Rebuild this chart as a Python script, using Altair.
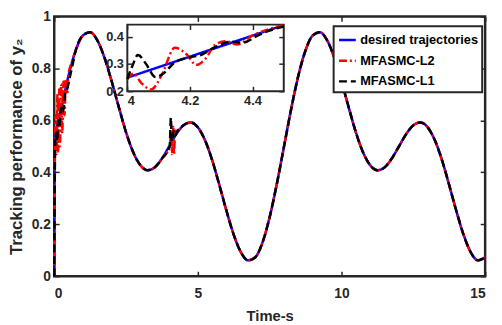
import altair as alt
import pandas as pd

# ---------------- data ----------------
names = ["desired trajectories", "MFASMC-L2", "MFASMC-L1"]
colors = ["#0000FF", "#FF0000", "#000000"]
dashes = [[1, 0], [8, 3, 2, 3], [8, 4]]

# desired trajectory
desired_t = [0.0, 0.01, 0.25, 0.5, 0.75, 1.0, 1.25, 1.5, 1.75, 2.0, 2.25, 2.5, 2.75, 3.0,
             3.25, 3.5, 3.75, 4.0, 4.25, 4.5, 4.75, 5.0, 5.25, 5.5, 5.75, 6.0, 6.25, 6.5,
             6.75, 7.0, 7.25, 7.5, 7.75, 8.0, 8.25, 8.5, 8.75, 9.0, 9.25, 9.5, 9.75, 10.0,
             10.25, 10.5, 10.75, 11.0, 11.25, 11.5, 11.75, 12.0, 12.25, 12.5, 12.75, 13.0,
             13.25, 13.5, 13.75, 14.0, 14.25, 14.5, 14.75, 15.0]
desired_y = [0.0, 0.50, 0.645, 0.773, 0.870, 0.927, 0.939, 0.908, 0.841, 0.750, 0.650, 0.554,
             0.477, 0.427, 0.408, 0.419, 0.453, 0.500, 0.547, 0.581, 0.592, 0.573, 0.523,
             0.446, 0.350, 0.250, 0.159, 0.092, 0.061, 0.073, 0.130, 0.228, 0.356, 0.500,
             0.645, 0.773, 0.870, 0.927, 0.939, 0.908, 0.841, 0.750, 0.650, 0.554, 0.477,
             0.427, 0.408, 0.419, 0.453, 0.500, 0.547, 0.581, 0.592, 0.573, 0.523, 0.446,
             0.350, 0.250, 0.159, 0.092, 0.061, 0.073]

# MFASMC-L2: start-up transient and disturbance around t = 4 s
l2_start_t = [0.0, 0.02, 0.05, 0.08, 0.11, 0.14, 0.17, 0.20, 0.24, 0.28, 0.32, 0.36, 0.40, 0.45, 0.50, 0.60]
l2_start_y = [0.0, 0.45, 0.62, 0.47, 0.70, 0.48, 0.72, 0.50, 0.74, 0.55, 0.75, 0.62, 0.76, 0.70, 0.78, 0.82]
l2_dist_t = [4.02, 4.07, 4.10, 4.14, 4.17, 4.21, 4.27]
l2_dist_y = [0.50, 0.55, 0.47, 0.58, 0.47, 0.56, 0.56]

# MFASMC-L1
l1_start_t = [0.0, 0.03, 0.06, 0.10, 0.14, 0.18, 0.24, 0.30, 0.38, 0.45, 0.55, 0.65]
l1_start_y = [0.0, 0.48, 0.55, 0.52, 0.60, 0.58, 0.65, 0.63, 0.70, 0.72, 0.77, 0.82]
l1_dist_t = [4.02, 4.06, 4.09, 4.12, 4.16, 4.20, 4.27]
l1_dist_y = [0.50, 0.61, 0.52, 0.53, 0.56, 0.54, 0.555]

# inset (zoom of 4 .. 4.5 s)
ins_blue_t = [4.0, 4.5]
ins_blue_y = [0.25, 0.443]
ins_l2_t = [4.0, 4.02, 4.045, 4.076, 4.11, 4.152, 4.19, 4.22, 4.25, 4.28, 4.315, 4.35, 4.40, 4.457, 4.5]
ins_l2_y = [0.245, 0.265, 0.23, 0.206, 0.26, 0.36, 0.335, 0.297, 0.32, 0.37, 0.384, 0.372, 0.405, 0.43, 0.443]
ins_l1_t = [4.0, 4.015, 4.034, 4.06, 4.09, 4.12, 4.15, 4.20, 4.235, 4.28, 4.33, 4.37, 4.415, 4.457, 4.5]
ins_l1_y = [0.245, 0.29, 0.333, 0.30, 0.252, 0.27, 0.305, 0.325, 0.333, 0.362, 0.382, 0.379, 0.404, 0.424, 0.438]

x_ticks = [0, 5, 10, 15]
y_ticks = [0, 0.2, 0.4, 0.6, 0.8, 1]
ins_x_ticks = [4, 4.2, 4.4]
ins_y_ticks = [0.2, 0.3, 0.4]


# ---------------- tables ----------------
def tracking(start_t, start_y, dist_t, dist_y):
    pts = list(zip(start_t, start_y)) + list(zip(dist_t, dist_y))
    last = start_t[-1]
    for t, y in zip(desired_t, desired_y):
        if t > last and not (3.95 < t < 4.3):
            pts.append((t, y))
    pts.sort()
    return pts


rows = [(t, y, names[0]) for t, y in zip(desired_t, desired_y)]
rows += [(t, y, names[1]) for t, y in tracking(l2_start_t, l2_start_y, l2_dist_t, l2_dist_y)]
rows += [(t, y, names[2]) for t, y in tracking(l1_start_t, l1_start_y, l1_dist_t, l1_dist_y)]
main_df = pd.DataFrame(rows, columns=["t", "v", "series"])

irows = [(t, y, names[0]) for t, y in zip(ins_blue_t, ins_blue_y)]
irows += [(t, y, names[1]) for t, y in zip(ins_l2_t, ins_l2_y)]
irows += [(t, y, names[2]) for t, y in zip(ins_l1_t, ins_l1_y)]
ins_df = pd.DataFrame(irows, columns=["t", "v", "series"])

frame_df = pd.DataFrame({"x0": [4.0], "x1": [4.5], "y0": [0.2], "y1": [0.445]})
main_box = pd.DataFrame({"t": [0, 15], "v": [0, 1]})
ins_box = pd.DataFrame({"t": [4.0, 4.5], "v": [0.2, 0.445]})

# ---------------- layout ----------------
W, H = 438, 264
IX0, IX1 = 74.3, 233.3
IY0, IY1 = 76.0, 8.3
FR = "#262626"
FONT = "Liberation Sans"

main_x = alt.Scale(domain=[0, 15], nice=False, zero=False)
main_y = alt.Scale(domain=[0, 1], nice=False, zero=False)
ins_x = alt.Scale(domain=[4, 4.5], range=[IX0, IX1], nice=False, zero=False)
ins_y = alt.Scale(domain=[0.2, 0.445], range=[IY0, IY1], nice=False, zero=False)


def tick_axis(orient, offset, values, z=0):
    return alt.Axis(orient=orient, offset=offset, values=values, labels=False, ticks=True,
                    tickSize=5, tickWidth=1.5, tickColor=FR, domain=False, title=None,
                    grid=False, zindex=z)


def build(legend_border=True):
    leg = dict(title=None, orient="none", legendX=284, legendY=10, symbolType="stroke",
               symbolSize=289, symbolStrokeWidth=2.5, labelFont=FONT, labelFontWeight="bold",
               labelFontSize=13, labelColor="#000000", fillColor="white", strokeColor=FR,
               padding=4, rowPadding=4, labelOffset=3, labelLimit=0)
    color = alt.Color("series:N", scale=alt.Scale(domain=names, range=colors), legend=alt.Legend(**leg))
    dash = alt.StrokeDash("series:N", scale=alt.Scale(domain=names, range=dashes), legend=alt.Legend(**leg))

    lines = alt.Chart(main_df).mark_line(strokeWidth=2.5, interpolate="monotone").encode(
        x=alt.X("t:Q", scale=main_x,
                axis=alt.Axis(orient="bottom", values=x_ticks, ticks=False, domain=False, grid=False,
                              labelPadding=11, labelFontSize=14, title="Time-s",
                              titleFontSize=15, titlePadding=8)),
        y=alt.Y("v:Q", scale=main_y,
                axis=alt.Axis(orient="left", values=y_ticks, format="~g", ticks=False, domain=False,
                              grid=False, labelPadding=4, labelFontSize=14,
                              title="Tracking performance of y₂", titleFontSize=17, titlePadding=6)),
        color=color, strokeDash=dash,
    )

    ticks_a = alt.Chart(main_box).mark_point(opacity=0).encode(
        x=alt.X("t:Q", scale=main_x, axis=tick_axis("top", -H, x_ticks)),
        y=alt.Y("v:Q", scale=main_y, axis=tick_axis("right", -W, y_ticks)))
    ticks_b = alt.Chart(main_box).mark_point(opacity=0).encode(
        x=alt.X("t:Q", scale=main_x, axis=tick_axis("bottom", -H, x_ticks)),
        y=alt.Y("v:Q", scale=main_y, axis=tick_axis("left", -W, y_ticks)))

    frame = alt.Chart(frame_df).mark_rect(fill="white", stroke=FR, strokeWidth=2).encode(
        x=alt.X("x0:Q", scale=ins_x,
                axis=alt.Axis(orient="bottom", offset=IY0 - H, values=ins_x_ticks, format="~g",
                              ticks=False, domain=False, grid=False, labelPadding=4,
                              labelFontSize=13, title=None, zindex=1)),
        x2="x1:Q",
        y=alt.Y("y0:Q", scale=ins_y,
                axis=alt.Axis(orient="left", offset=-IX0, values=ins_y_ticks, format="~g",
                              ticks=False, domain=False, grid=False, labelPadding=4,
                              labelFontSize=13, title=None, zindex=1)),
        y2="y1:Q")

    ins_lines = alt.Chart(ins_df).mark_line(strokeWidth=2.5, interpolate="monotone").encode(
        x=alt.X("t:Q", scale=ins_x, axis=None),
        y=alt.Y("v:Q", scale=ins_y, axis=None),
        color=color, strokeDash=dash)

    ins_ticks_a = alt.Chart(ins_box).mark_point(opacity=0).encode(
        x=alt.X("t:Q", scale=ins_x, axis=tick_axis("top", -IY0, ins_x_ticks, 1)),
        y=alt.Y("v:Q", scale=ins_y, axis=tick_axis("right", IX0 - W, ins_y_ticks, 1)))
    ins_ticks_b = alt.Chart(ins_box).mark_point(opacity=0).encode(
        x=alt.X("t:Q", scale=ins_x, axis=tick_axis("bottom", IY1 - H, ins_x_ticks, 1)),
        y=alt.Y("v:Q", scale=ins_y, axis=tick_axis("left", -IX1, ins_y_ticks, 1)))

    chart = alt.layer(lines, ticks_a, ticks_b, frame, ins_lines, ins_ticks_a, ins_ticks_b).resolve_scale(
        x="independent", y="independent"
    ).properties(
        width=W, height=H, autosize=alt.AutoSizeParams(type="none"),
        padding={"left": 47, "top": 6, "right": 9, "bottom": 45},
    ).configure_view(
        stroke=FR, strokeWidth=2.5
    ).configure_axis(
        labelFont=FONT, labelFontWeight="bold", labelColor=FR, titleFont=FONT,
        titleFontWeight="bold", titleColor=FR
    )
    if legend_border:
        chart = chart.configure_legend(strokeWidth=2)
    return chart


try:
    chart = build(True)
    chart.to_dict()
except Exception:
    chart = build(False)

chart.save("out.html", embed_options={"renderer": "svg", "actions": False})
